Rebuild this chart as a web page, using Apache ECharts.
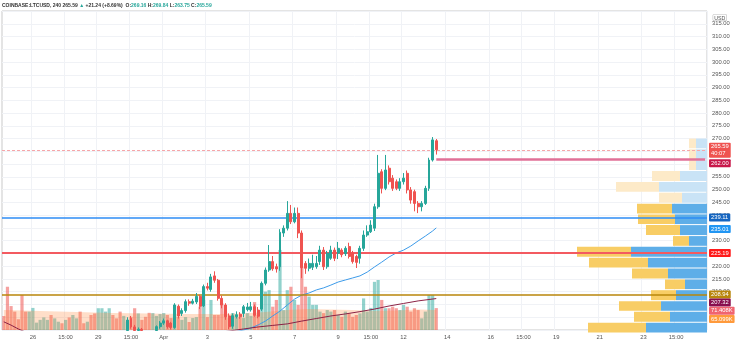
<!DOCTYPE html>
<html><head><meta charset="utf-8">
<script src="https://cdn.jsdelivr.net/npm/echarts@6/dist/echarts.min.js"></script>
<style>html,body{margin:0;padding:0;background:#fff}#c{width:736px;height:345px}</style>
</head><body><div id="c"></div>
<script>
// ---- data (4h candles, COINBASE:LTCUSD) ----
const open  = [184,182,177,174,172.5,171.5,169.5,168.5,171,174,175,177,178.5,180,178,179.5,181,179.5,181.5,180,182,183.5,181,180,182,180.5,178,182.5,186.5,189,192,190,189,187,194.8,199.5,196.2,194.8,195.3,194.8,190.5,189.5,194.8,196.3,197.7,198.6,197.7,196,204.3,201.5,202.6,206.1,205.5,206,208.2,204.5,212,210.9,216.2,214.5,207.4,204.8,200.5,196.5,200.3,201.2,201.5,203,202.9,204.1,202.8,203.2,213.3,218.5,221.8,219.8,219.8,233,234.9,240.7,237.4,240.7,233,221.1,219.2,219.6,219.8,221.8,226.3,219.8,223.1,226.3,225.1,226.3,224.9,227.7,225.1,223.8,223.1,227,232.2,233.5,234.9,243.3,257,250.5,258.4,254.5,253.1,250.5,253.1,256.4,249.9,249.2,244.6,243.3,244.6,250.5,261.6,269.16];
const high  = [185.5,183,178.5,175.5,174,173,171,172,175,176,177.5,179,181,180.5,180,181.5,181.5,182,182,182.5,184,184,181.5,182.5,182.5,181,183,187,189.5,192.5,193,191,190,194.9,200,200.5,197,196,195.8,194.9,191.5,193.5,196.8,198.5,199.5,199,198.2,205.5,205,203.5,207,207,207.2,209.5,208.8,212.8,213.5,217,218,215,208.5,205.5,201.5,201.5,202.3,202,204.8,205.6,206,205,204,214,219.5,228.3,224,221,234.5,236,245.5,244,243,243,234,222,223,224.5,224,228,227.5,226,228,227.3,229.5,227,227.8,229.2,226,224.5,228,234,236,238,244.5,263.6,258,263.6,259.5,255.7,254,254.5,256.5,257.5,251,250,245.5,245.5,251.5,262.5,270.6,269.84];
const low   = [181.5,176.5,173,171.5,170.5,168,167.5,168,170.5,173.5,174.5,176.5,178,177,177.5,179,179,179,179.5,179.5,181.5,180.5,179.5,179.5,180,177.5,177.5,182,186,188.5,189.5,188.5,186.5,186.5,194.7,195.5,194.7,194.7,194.7,190,188.5,189,194.7,195.5,197,195.5,195.2,195.5,199.5,200.5,201.8,204.5,205,205.2,203.2,204,210.5,210,213.5,206.5,203.5,199,195.3,195.5,199.5,199.4,200,202.3,202.2,200.2,199.6,202.5,212.5,217.8,218.2,217.5,218.2,231.5,234,236.5,236.8,231,215.3,217,218,218.5,219,220.5,218.5,219,222.5,222,222.8,223.5,224,223,221,219.3,221,226,231.5,233,233.8,242.5,248.5,249.8,252,249.5,249.8,249.5,252,248.5,244.5,241.5,240.8,241.5,244,249.5,261,263.75];
const close = [182,177,174,172.5,171.5,169.5,168.5,171,174,175,177,178.5,180,178,179.5,181,179.5,181.5,180,182,183.5,181,180,182,180.5,178,182.5,186.5,189,192,190,189,187,194.8,198.9,196.2,194.8,195.3,194.8,190.5,189.5,193,196.3,197.7,198.6,196.3,196,204.8,200.5,202.6,206.1,205.5,206.3,208.2,204.3,212,211.4,215.8,214.5,207.4,204.8,200.2,196.3,200.6,201,200.2,204.1,204,204.1,200.8,200.4,213.3,218.5,221.8,219,218.9,233.3,234.9,240.7,237.4,240.7,233,219.4,219.2,221.1,221.1,221.1,226.3,219.8,225.1,226.3,223.1,227,224.5,227,223.8,221.8,221.5,227,232.2,233.5,236.1,243.3,256.4,250.5,257.7,253.1,250.5,250.5,253.1,254.5,249.9,245.9,244.6,243.3,244.6,250.5,261.6,269.5,265.59];
const volume = [45.6,141,78,60,35,114,60,60,72,24,33,41,33,49,38,27,22,33,41,49,38,60,22,27,49,54,71,71,60,71,49,38,60,46,27,43,71,54,33,43,56,55,46,52,55,49,39,82,42,33,42,26,39,42,76,98,42,98,49,49,87,60,39,55,46,42,39,55,46,91,49,152,125,130,76,98,261,65,130,141,98,82,206,141,109,82,82,60,55,65,60,65,49,43,60,54,43,49,54,103,60,72,157,163,98,71,71,76,71,65,82,76,60,71,65,38,60,114,114,71.408];
// moving averages: [candle index, value]
const maFast = [[0,186],[20,178],[40,185],[50,189],[60,193],[64,194.4],[66,195],[68,195.8],[70,197],[72,198.5],[74,200.5],[76,202.4],[78,204.8],[80,207.1],[82,208.7],[84,209.5],[86,210.7],[88,211.5],[90,212.6],[92,213.8],[94,214.6],[96,215.4],[98,216.2],[100,217.7],[102,219.7],[104,221.6],[106,223.6],[108,225.2],[110,226.3],[112,227.9],[114,229.9],[116,231.8],[118,233.8],[119,235.01]];
const maSlow = [[0,198.2],[2,196.9],[4,195.4],[6,194.2],[10,192.5],[20,190.5],[30,190],[40,191],[50,192.5],[58,193.8],[62,194.6],[66,195.4],[70,196.2],[74,196.8],[78,197.4],[82,198.5],[86,199.5],[90,200.5],[94,201.3],[98,202.2],[102,203.2],[106,204.4],[110,205.4],[114,206.4],[119,207.32]];
const volMA = [[0,65],[10,62],[20,58.7],[30,55.4],[40,53.8],[50,52.2],[60,52.2],[66,53.8],[72,58.7],[78,65],[84,68.5],[90,66.8],[96,65],[102,62],[108,63.6],[114,66.8],[119,65.099]];
// volume profile rows (price bins) with relative down/up volume
const vpLow  = [193.8,198.0,202.3,206.5,210.8,215.0,219.3,223.5,227.8,232.0,236.3,240.5,244.7,249.0,253.2,257.5,261.7,266.0];
const vpHigh = [198.0,202.3,206.5,210.8,215.0,219.3,223.5,227.8,232.0,236.3,240.5,244.7,249.0,253.2,257.5,261.7,266.0,270.2];
const vpDown = [61,37,46,31,22,39,59,76,18,27,32,35,25,48,27,11,11,11];
const vpUp   = [58,36,42,25,20,36,59,54,16,34,37,35,23,43,28,7,7,7];
const vpValueArea = [1,1,1,1,1,1,1,1,1,1,1,1,0,0,0,0,0,0];
// levels
const currentPrice = 265.59, rayLevel = 262.00, blueLevel = 239.11, redLevel = 225.19, goldLevel = 208.94;
// x tick labels (category name -> label)
const tickLabels = {'03-26 03:00':'26','03-27 15:00':'15:00','03-29 03:00':'29','03-30 15:00':'15:00','04-01 03:00':'Apr','04-03 03:00':'3','04-05 03:00':'5','04-07 03:00':'7','04-09 03:00':'9','04-10 15:00':'15:00','04-12 03:00':'12','04-14 03:00':'14','04-16 03:00':'16','04-17 15:00':'15:00','04-19 03:00':'19','04-21 03:00':'21','04-23 03:00':'23','04-24 15:00':'15:00'};
const tagText = ['265.59\n40:07','262.00','239.11','235.01','225.19','208.94','207.32','71.408K','65.099K'];

// ---- layout / style ----
const tagAt = [265.4,260.3,239.11,234.6,225.19,208.94,205.8,202.5,199.3];
const tagColor = ['#ef5350','#c8184a','#1565c0','#2196f3','#ff1a1a','#b8860b','#880e4f','#f06470','#ff9a3c'];
const UP = '#26a69a', DOWN = '#ef5350';
const N = 194;
const pad = n => (n < 10 ? '0' : '') + n;
const cats = [];
for (let i = 0; i < N; i++) {
  const d = new Date(Date.UTC(2021, 2, 24, 19) + i * 4 * 3600e3);
  cats.push(pad(d.getUTCMonth() + 1) + '-' + pad(d.getUTCDate()) + ' ' + pad(d.getUTCHours()) + ':00');
}
const isTick = (idx) => tickLabels[cats[idx]] !== undefined;

const candles = open.map((o, i) => [o, close[i], low[i], high[i]]);
const volData = volume.map((v, i) => ({value: v, itemStyle: {color: close[i] >= open[i] ? 'rgba(38,166,154,0.5)' : 'rgba(239,83,80,0.55)'}}));
const vpData = vpLow.map((l, i) => [l, vpHigh[i], vpDown[i], vpUp[i], vpValueArea[i]]);

const FONT = 'Liberation Sans';
const tagLines = tagText.map((t, i) => ({
  yAxis: tagAt[i],
  lineStyle: {color: 'rgba(255,255,255,0)', width: 0.01},
  label: {show: true, position: 'end', distance: 2, formatter: t, color: '#fff', backgroundColor: tagColor[i],
    fontSize: 5.8, fontFamily: FONT, padding: [1, 2, 0, 2], lineHeight: 7, borderRadius: 1}
}));

const chart = echarts.init(document.getElementById('c'), null, {renderer: 'canvas'});
chart.setOption({
  animation: false,
  backgroundColor: '#fff',
  title: {
    left: 2, top: 3, padding: 0,
    text: '{a|COINBASE:LTCUSD, 240 265.59 }{u|▲}{a| +21.24 (+8.69%)  O:}{v|269.16}{a| H:}{v|269.84}{a| L:}{v|263.75}{a| C:}{v|265.59}',
    textStyle: {fontSize: 5, fontFamily: FONT, rich: {
      a: {fontSize: 5, color: '#333', fontFamily: FONT},
      u: {fontSize: 5, color: UP, fontFamily: FONT},
      v: {fontSize: 5, color: UP, fontFamily: FONT}
    }}
  },
  graphic: [{type: 'text', right: 9, top: 14, z: 50,
    style: {text: 'USD', fontSize: 5.3, fontFamily: FONT, fill: '#555', backgroundColor: '#fff', borderColor: '#bbb', borderWidth: 0.6, padding: [1, 1, 0, 1], borderRadius: 1}}],
  grid: {left: 2, right: 29, top: 11, bottom: 15, show: true, borderColor: '#c9c9c9', borderWidth: 1, backgroundColor: 'transparent'},
  xAxis: [{
    type: 'category', data: cats, boundaryGap: true,
    axisLine: {show: false}, axisTick: {show: false},
    axisLabel: {interval: isTick, formatter: v => tickLabels[v] || '', fontSize: 5.8, color: '#555', fontFamily: FONT, margin: 4},
    splitLine: {show: true, interval: isTick, lineStyle: {color: '#f0f2f6', width: 1}}
  }, {
    type: 'value', inverse: true, min: 0, max: 705, show: false, position: 'top'
  }],
  yAxis: [{
    type: 'value', position: 'right', min: 195, max: 320, interval: 5, scale: true,
    axisLine: {show: false}, axisTick: {show: false},
    axisLabel: {fontSize: 5.8, color: '#555', fontFamily: FONT, margin: 5, formatter: v => v.toFixed(2), showMinLabel: false, showMaxLabel: false},
    splitLine: {show: true, lineStyle: {color: '#f0f2f6', width: 1}}
  }, {
    type: 'value', min: 0, max: 1040, show: false, splitLine: {show: false}
  }],
  series: [
    {type: 'bar', name: 'Volume', xAxisIndex: 0, yAxisIndex: 1, data: volData, barCategoryGap: '12%', z: 1, silent: true},
    {type: 'line', name: 'Vol MA', xAxisIndex: 0, yAxisIndex: 1, data: volMA, symbol: 'none', lineStyle: {width: 0},
      areaStyle: {color: 'rgba(255,135,60,0.4)'}, z: 2, silent: true},
    {type: 'custom', name: 'VP', xAxisIndex: 1, yAxisIndex: 0, data: vpData, z: 2, silent: true,
      encode: {x: [2, 3], y: [0, 1]},
      renderItem: (params, api) => {
        const lo = api.value(0), hi = api.value(1), dn = api.value(2), up = api.value(3), va = api.value(4);
        const p0 = api.coord([0, hi]), p1 = api.coord([dn, lo]), p2 = api.coord([dn + up, lo]);
        const top = p0[1] + 0.5, h = p1[1] - p0[1] - 1;
        return {type: 'group', children: [
          {type: 'rect', shape: {x: p1[0], y: top, width: p0[0] - p1[0], height: h}, style: {fill: va ? '#5eaee8' : '#c9e3f6'}},
          {type: 'rect', shape: {x: p2[0], y: top, width: p1[0] - p2[0], height: h}, style: {fill: va ? '#f8cd65' : '#fdeac8'}}
        ]};
      }},
    {type: 'line', name: 'MA fast', data: maFast, symbol: 'none', lineStyle: {color: '#3d9be9', width: 1}, z: 4, silent: true,
      markLine: {
        silent: true, symbol: 'none', animation: false, label: {show: false},
        data: [
          {yAxis: currentPrice, lineStyle: {color: '#f6a5a8', type: [3, 2], width: 1}},
          {yAxis: blueLevel, lineStyle: {color: '#2e8cf5', type: 'solid', width: 1.5}},
          {yAxis: redLevel, lineStyle: {color: '#f35a60', type: 'solid', width: 2}},
          {yAxis: goldLevel, lineStyle: {color: '#b8860b', type: 'solid', width: 1.5}},
          [{coord: [cats[119], rayLevel], lineStyle: {color: '#e07097', type: 'solid', width: 2.5}}, {coord: [cats[N - 1], rayLevel]}]
        ]
      }},
    {type: 'line', name: 'MA slow', data: maSlow, symbol: 'none', lineStyle: {color: '#8b2346', width: 1}, z: 4, silent: true},
    {type: 'candlestick', name: 'LTCUSD', data: candles, barWidth: '68%', z: 5, clip: true,
      itemStyle: {color: UP, color0: DOWN, borderColor: UP, borderColor0: DOWN, borderWidth: 1},
      markLine: {
        silent: true, symbol: 'none', animation: false, precision: 2,
        label: {show: false},
        data: tagLines
      }}
  ]
});
</script></body></html>
